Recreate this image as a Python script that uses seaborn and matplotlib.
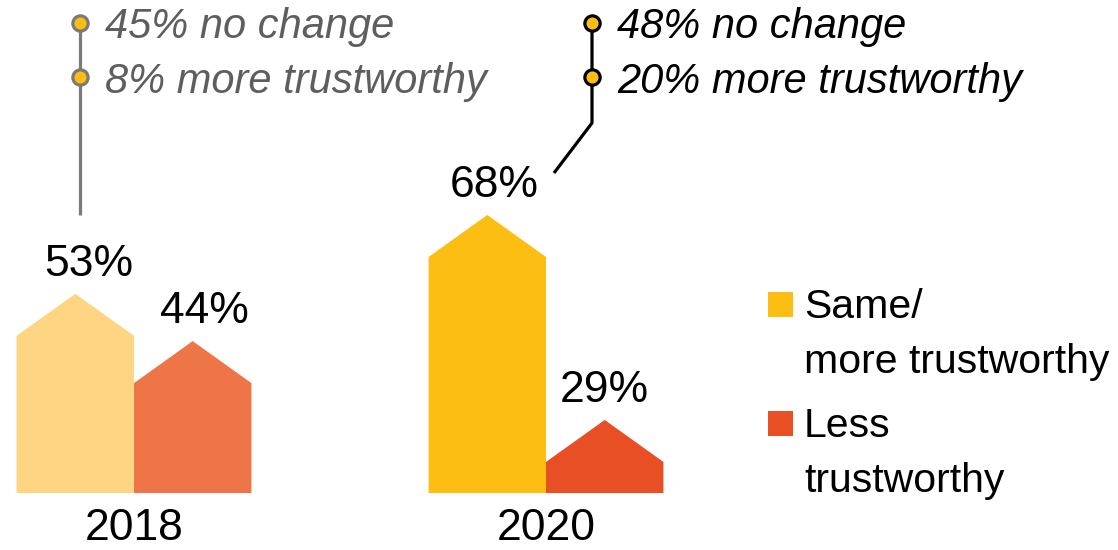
import matplotlib
matplotlib.use("Agg")
import matplotlib.pyplot as plt
import matplotlib.transforms as mtransforms
from matplotlib.patches import Polygon, Rectangle
from matplotlib.lines import Line2D
import pandas as pd
import seaborn as sns

# --- data -------------------------------------------------------------
years = ["2018", "2020"]
groups = ["Same/\nmore trustworthy", "Less\ntrustworthy"]
same_or_more = [53, 68]
less = [44, 29]
no_change = [45, 48]
more_trustworthy = [8, 20]

# --- styling ----------------------------------------------------------
bar_colors = {
    ("2018", groups[0]): "#FED583",
    ("2018", groups[1]): "#EE7547",
    ("2020", groups[0]): "#FDBE13",
    ("2020", groups[1]): "#E84F25",
}
legend_colors = ["#FDBE13", "#E84F25"]
label_dx = {("2018", groups[0]): 10, ("2018", groups[1]): 8.5,
            ("2020", groups[0]): 5, ("2020", groups[1]): 0}

W, H = 1118, 550
sns.set_theme(style="white")
plt.rcParams["font.family"] = ["Liberation Sans", "DejaVu Sans"]

df = pd.DataFrame({
    "year": years * 2,
    "group": [groups[0]] * len(years) + [groups[1]] * len(years),
    "pct": same_or_more + less,
})

fig = plt.figure(figsize=(W / 100, H / 100), dpi=100)
fig.patch.set_facecolor("white")
ax = fig.add_axes([0, 57 / H, 1, 493 / H])
sns.barplot(data=df, x="year", y="pct", hue="group", order=years,
            hue_order=groups, palette=legend_colors, saturation=1,
            width=0.57, dodge=True, legend=False, errorbar=None, ax=ax)

# truncated value axis: baseline sits at ~15 %
px_per_unit = 5.256
y0 = 15.1
ax.set_ylim(y0, y0 + 493 / px_per_unit)
ax.set_xlim(-134 / 412, (W - 134) / 412)
roof = 42 / px_per_unit

# turn every bar into a house shape and label it
for grp, cont in zip(groups, ax.containers):
    for bar in cont:
        x, w, h, b = bar.get_x(), bar.get_width(), bar.get_height(), bar.get_y()
        yr = years[int(round(x + w / 2))]
        pts = [(x, b), (x, h - roof), (x + w / 2, h), (x + w, h - roof), (x + w, b)]
        ax.add_patch(Polygon(pts, closed=True, facecolor=bar_colors[(yr, grp)],
                             edgecolor="none", lw=0))
        bar.set_visible(False)
        ax.annotate(f"{h:.0f}%", (x + w / 2, h), xytext=(label_dx[(yr, grp)], 13),
                    textcoords="offset points", ha="center", va="baseline",
                    fontsize=32, color="black")

ax.set_xlabel("")
ax.set_ylabel("")
ax.set_yticks([])
ax.tick_params(axis="x", length=0, pad=10.5, labelsize=32, labelcolor="black")
sns.despine(ax=ax, left=True, bottom=True)
ax.set_facecolor("none")

# pixel coordinates measured from the top-left corner of the figure
to_px = mtransforms.Affine2D().scale(1 / W, -1 / H).translate(0, 1) + fig.transFigure

# --- breakdown call-outs ----------------------------------------------
callouts = [
    dict(line_x=[80, 80], line_y=[23, 215], dot_x=80, text_x=105,
         color="#7A7A7A", text_color="#5E5E5E"),
    dict(line_x=[592, 592, 554], line_y=[23, 123, 173], dot_x=592, text_x=617,
         color="black", text_color="black"),
]
for i, c in enumerate(callouts):
    fig.add_artist(Line2D(c["line_x"], c["line_y"], transform=to_px,
                          color=c["color"], lw=2.3, solid_capstyle="butt"))
    fig.add_artist(Line2D([c["dot_x"], c["dot_x"]], [23, 77], transform=to_px,
                          ls="none", marker="o", ms=11, mfc="#FDBE13",
                          mec=c["color"], mew=2.3))
    fig.text(c["text_x"], 38, f"{no_change[i]}% no change", transform=to_px,
             fontsize=30, fontstyle="italic", color=c["text_color"], va="baseline")
    fig.text(c["text_x"], 93, f"{more_trustworthy[i]}% more trustworthy",
             transform=to_px, fontsize=30, fontstyle="italic",
             color=c["text_color"], va="baseline")

# --- legend -----------------------------------------------------------
legend_top = [292, 411]
for grp, col, top in zip(groups, legend_colors, legend_top):
    fig.add_artist(Rectangle((768, top), 25, 25, transform=to_px,
                             facecolor=col, edgecolor="none"))
    for k, line in enumerate(grp.split("\n")):
        fig.text(804, top + 26 + 55 * k, line, transform=to_px, fontsize=29.5,
                 color="black", va="baseline")

fig.savefig("out.png", dpi=100, facecolor="white")
